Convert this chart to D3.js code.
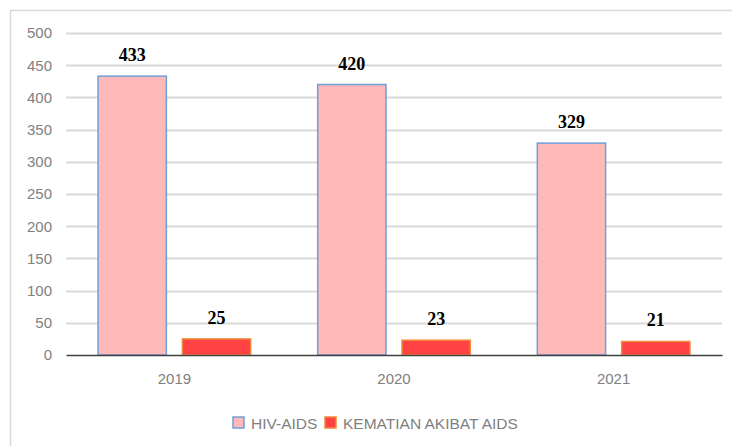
<!DOCTYPE html>
<html>
<head>
<meta charset="utf-8">
<script src="https://cdn.jsdelivr.net/npm/d3@7"></script>
<style>
  body { margin: 0; background: #fff; }
</style>
</head>
<body>
<script>
// data
const years = ['2019', '2020', '2021'];
const seriesNames = ['HIV-AIDS', 'KEMATIAN AKIBAT AIDS'];
const hivAids = [433, 420, 329];
const kematian = [25, 23, 21];
const yTicks = [0, 50, 100, 150, 200, 250, 300, 350, 400, 450, 500];

const fills = ['#ffb9b9', '#ff4343'];
const strokes = ['#6f9fd8', '#f08a3c'];

const svgWidth = 732;
const svgHeight = 446;
const margin = { top: 33, right: 10, bottom: 91, left: 66 };
const width = svgWidth - margin.left - margin.right;
const height = svgHeight - margin.top - margin.bottom;

const svg = d3.select('body')
  .append('svg')
  .attr('width', svgWidth)
  .attr('height', svgHeight);

// chart frame (only top and left edges visible)
svg.append('path')
  .attr('d', `M10.5,${svgHeight} L10.5,10.5 L${svgWidth},10.5`)
  .attr('fill', 'none')
  .attr('stroke', '#d9d9d9')
  .attr('stroke-width', 1.5);

const g = svg.append('g')
  .attr('transform', `translate(${margin.left}, ${margin.top})`);

const x0 = d3.scaleBand().domain(years).range([0, width]).paddingInner(0.305).paddingOuter(0.146);
const x1 = d3.scaleBand().domain(seriesNames).range([0, x0.bandwidth()]).paddingInner(0.19);
const y = d3.scaleLinear().domain([0, 500]).range([height, 0]);

// gridlines
g.append('g')
  .selectAll('line')
  .data(yTicks.filter(d => d > 0))
  .join('line')
  .attr('x1', 0)
  .attr('x2', width)
  .attr('y1', d => Math.round(y(d)) + 0.5)
  .attr('y2', d => Math.round(y(d)) + 0.5)
  .attr('stroke', '#d9d9d9')
  .attr('stroke-width', 2);

// y axis labels
const yAxis = d3.axisLeft(y).tickValues(yTicks).tickSize(0).tickPadding(14);
g.append('g')
  .call(yAxis)
  .call(a => a.select('.domain').remove())
  .selectAll('text')
  .attr('fill', '#808080')
  .style('font-family', 'Liberation Sans, Arial, sans-serif')
  .style('font-size', '15px');

const rows = years.map((yr, i) => ({ year: yr, values: [hivAids[i], kematian[i]] }));

const groups = g.append('g')
  .selectAll('g')
  .data(rows)
  .join('g')
  .attr('transform', d => `translate(${x0(d.year)},0)`);

groups.selectAll('rect')
  .data(d => d.values.map((v, j) => ({ name: seriesNames[j], value: v, j })))
  .join('rect')
  .attr('x', d => x1(d.name))
  .attr('y', d => y(d.value))
  .attr('width', x1.bandwidth())
  .attr('height', d => height - y(d.value))
  .attr('fill', d => fills[d.j])
  .attr('stroke', d => strokes[d.j])
  .attr('stroke-width', 1.5);

// value labels
groups.selectAll('text')
  .data(d => d.values.map((v, j) => ({ name: seriesNames[j], value: v })))
  .join('text')
  .attr('x', d => x1(d.name) + x1.bandwidth() / 2)
  .attr('y', d => y(d.value) - 15)
  .attr('text-anchor', 'middle')
  .style('font-family', 'Liberation Serif, Times New Roman, serif')
  .style('font-weight', 'bold')
  .style('font-size', '18px')
  .attr('fill', '#000')
  .text(d => d.value);

// x axis
const xAxis = d3.axisBottom(x0).tickSize(0).tickPadding(18);
g.append('g')
  .attr('transform', `translate(0, ${height})`)
  .call(xAxis)
  .call(a => a.select('.domain').attr('stroke', '#404040').attr('stroke-width', 1.5))
  .selectAll('text')
  .attr('fill', '#808080')
  .style('font-family', 'Liberation Sans, Arial, sans-serif')
  .style('font-size', '15px');

// legend
const legendX = [233, 325];
const legend = svg.append('g')
  .selectAll('g')
  .data(seriesNames)
  .join('g')
  .attr('transform', (d, i) => `translate(${legendX[i]}, 417)`);

legend.append('rect')
  .attr('width', 11)
  .attr('height', 11)
  .attr('fill', (d, i) => fills[i])
  .attr('stroke', (d, i) => strokes[i])
  .attr('stroke-width', 1.5);

legend.append('text')
  .attr('x', 18)
  .attr('y', 11.5)
  .attr('fill', '#808080')
  .style('font-family', 'Liberation Sans, Arial, sans-serif')
  .style('font-size', '15.5px')
  .text(d => d);
</script>
</body>
</html>
